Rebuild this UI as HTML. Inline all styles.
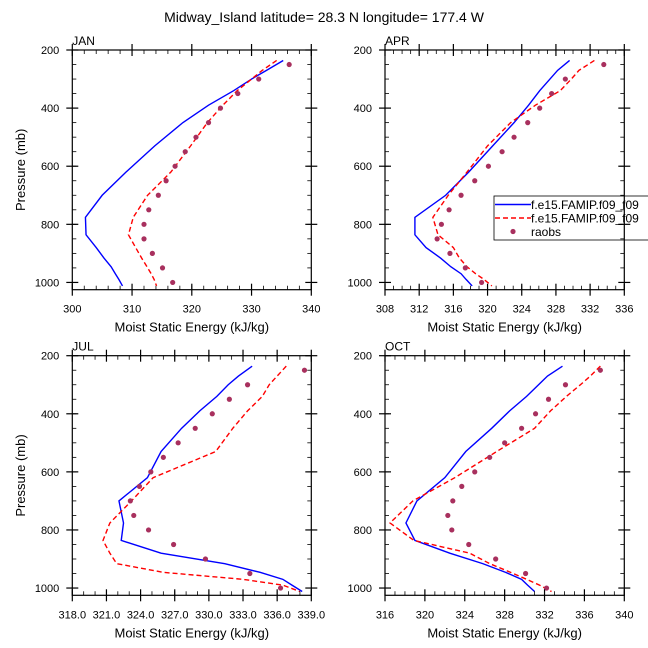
<!DOCTYPE html>
<html><head><meta charset="utf-8"><style>
body{margin:0;background:#fff}
svg{display:block;font-family:"Liberation Sans",Arial,sans-serif}
</style></head><body>
<svg id="c" width="648" height="648" viewBox="0 0 648 648" xmlns="http://www.w3.org/2000/svg">
<text x="324" y="22" font-size="14" text-anchor="middle">Midway_Island  latitude= 28.3 N longitude= 177.4 W</text>
</svg>
<script>
const modelLevels=[236,270,300,340,390,450,530,620,700,776,836,880,916,946,970,990,1012];
const obsLevels=[250,300,350,400,450,500,550,600,650,700,750,800,850,900,950,1000];
const janBlue=[335.3,332.5,330,327,322.8,318.5,313.8,309,305,302.2,302.3,304,305.3,306.5,307.2,307.8,308.4];
const janRed=[334.2,331.8,330,327.6,325.2,322.6,319.8,316.5,312.6,310.2,309.4,310.6,311.6,312.5,313.2,313.7,314.1];
const janObs=[336.3,331.2,327.7,324.8,322.8,320.7,318.9,317.2,315.7,314.4,312.8,312,312,313.4,315.1,316.8];
const aprBlue=[329.6,328.2,327.3,326.1,324.8,323.1,320.6,317.8,315.1,311.5,311.5,312.8,314.5,315.7,316.9,317.5,318.2];
const aprRed=[332.5,330.7,329.8,328.5,325.6,322.7,320,317.6,315.4,313.6,314.2,316,316.7,317.6,318.6,319.6,320.5];
const aprObs=[333.6,329.1,327.5,326.1,324.7,323.1,321.7,320.1,318.5,316.9,315.5,314.6,314.1,315.6,317.4,319.3];
const julBlue=[333.8,332.6,331.7,330.7,329.2,327.6,325.8,324.6,322.1,322.5,322.3,325.8,331.4,334.5,336.5,337.3,338.2];
const julRed=[336.8,336,335.3,334.7,333.4,332.1,330.6,325.1,323.2,321.3,320.7,321.3,321.9,326,333,336.5,338];
const julObs=[338.4,333.4,331.8,330.3,328.8,327.3,326,324.9,323.9,323.1,323.4,324.7,326.9,329.7,333.6,336.3];
const octBlue=[333.8,332.3,331.4,330.2,328.5,326.7,324.1,322,319.2,318.1,319,322.5,325.8,328.1,329.7,330.3,331];
const octRed=[337.6,336.6,335.6,334.2,332.6,331,327.2,323,318.8,316.5,318.9,324.5,326.5,328.6,330.2,331.5,332.7];
const octObs=[337.6,334.1,332.4,331.1,329.7,328,326.5,325,323.7,322.8,322.3,322.7,324.4,327.1,330.1,332.2];
const janTicks=[300,310,320,330,340];
const aprTicks=[308,312,316,320,324,328,332,336];
const julTicks=[318,321,324,327,330,333,336,339];
const octTicks=[316,320,324,328,332,336,340];
const pTicks=[200,400,600,800,1000];

const NS="http://www.w3.org/2000/svg";
const svg=document.getElementById('c');
function mk(tag,attrs,parent){const e=document.createElementNS(NS,tag);for(const k in attrs)e.setAttribute(k,attrs[k]);(parent||svg).appendChild(e);return e;}

function panel(name,L,R,T,B,xmin,xmax,ticks,minorStep,dec,blue,red,obs,legend){
  const g=mk('g',{});
  
  
  const pmin=200,pmax=1025;
  const xs=v=>L+(v-xmin)/(xmax-xmin)*(R-L);
  const ys=p=>T+(p-pmin)/(pmax-pmin)*(B-T);
  const line=(vals,color,dash,nm)=>{
    const d=vals.map((v,i)=>(i?'L':'M')+xs(v).toFixed(2)+' '+ys(modelLevels[i]).toFixed(2)).join(' ');
    const p=mk('path',{d:d,fill:'none',stroke:color,'stroke-width':1.4,'stroke-dasharray':dash},g);
    
    
  };
  line(blue,'#0000ff','none',name+'-model-line-1');
  line(red,'#ff0000','5,3',name+'-model-line-2');
  obs.forEach((v,i)=>{
    const c=mk('circle',{cx:xs(v),cy:ys(obsLevels[i]),r:2.6,fill:'#a8305e'},g);
    
    
  });
  if(legend){
    const lg=mk('g',{},g);
    
    
    mk('rect',{x:494,y:196,width:160,height:44,fill:'#fff',stroke:'#000','stroke-width':0.8},lg);
    const rows=[['#0000ff','none','f.e15.FAMIP.f09_f09',204.5],['#ff0000','5,3','f.e15.FAMIP.f09_f09',218],['dot','','raobs',231.5]];
    rows.forEach((r,i)=>{
      const e=mk('g',{},lg);
      
      
      if(r[0]==='dot')mk('circle',{cx:513,cy:r[3],r:2.6,fill:'#a8305e'},e);
      else mk('line',{x1:495,x2:531,y1:r[3],y2:r[3],stroke:r[0],'stroke-width':1.4,'stroke-dasharray':r[1]},e);
      const t=mk('text',{x:531,y:r[3]+4.5,'font-size':12},e);t.textContent=r[2];
    });
  }
  const f=mk('rect',{x:L,y:T,width:R-L,height:B-T,fill:'none',stroke:'#000','stroke-width':1.2},g);
  
  
  for(let v=xmin;v<=xmax+1e-9;v+=minorStep){
    const x=xs(v);
    mk('line',{x1:x,x2:x,y1:B,y2:B-4,stroke:'#000','stroke-width':0.8},g);
    mk('line',{x1:x,x2:x,y1:T,y2:T+4,stroke:'#000','stroke-width':0.8},g);
  }
  ticks.forEach(v=>{
    const x=xs(v);
    mk('line',{x1:x,x2:x,y1:B-6,y2:B+6,stroke:'#000','stroke-width':1.2},g);
    mk('line',{x1:x,x2:x,y1:T-6,y2:T+6,stroke:'#000','stroke-width':1.2},g);
    const t=mk('text',{x:x,y:B+23,'font-size':11,'text-anchor':'middle'},g);
    
    
    t.textContent=v.toFixed(dec);
  });
  for(let p=250;p<=1000;p+=50){
    const y=ys(p);
    mk('line',{x1:L,x2:L+4,y1:y,y2:y,stroke:'#000','stroke-width':0.8},g);
    mk('line',{x1:R,x2:R-4,y1:y,y2:y,stroke:'#000','stroke-width':0.8},g);
  }
  pTicks.forEach(p=>{
    const y=ys(p);
    mk('line',{x1:L-6,x2:L+6,y1:y,y2:y,stroke:'#000','stroke-width':1.2},g);
    mk('line',{x1:R-6,x2:R+6,y1:y,y2:y,stroke:'#000','stroke-width':1.2},g);
    const t=mk('text',{x:L-13,y:y+4,'font-size':11,'text-anchor':'end'},g);
    
    
    t.textContent=p;
  });
  const xl=mk('text',{x:(L+R)/2,y:B+42,'font-size':13,'text-anchor':'middle'},g);
  
  
  xl.textContent='Moist Static Energy (kJ/kg)';
  if(L<200){
    const yl=mk('text',{x:0,y:0,'font-size':13,'text-anchor':'middle',transform:`translate(25,${(T+B)/2}) rotate(-90)`},g);
    
    
    yl.textContent='Pressure (mb)';
  }
  const pt=mk('text',{x:L,y:T-5,'font-size':12},g);
  
  
  pt.textContent=name.toUpperCase();
}
panel('jan',72.3,311.3,50,289.7,300,340,janTicks,2,0,janBlue,janRed,janObs,false);
panel('apr',385,624.3,50,289.7,308,336,aprTicks,1,0,aprBlue,aprRed,aprObs,true);
panel('jul',72.3,311.3,355.7,595.3,318,339,julTicks,1,1,julBlue,julRed,julObs,false);
panel('oct',385,624.3,355.7,595.3,316,340,octTicks,1,0,octBlue,octRed,octObs,false);
</script>
</body></html>
